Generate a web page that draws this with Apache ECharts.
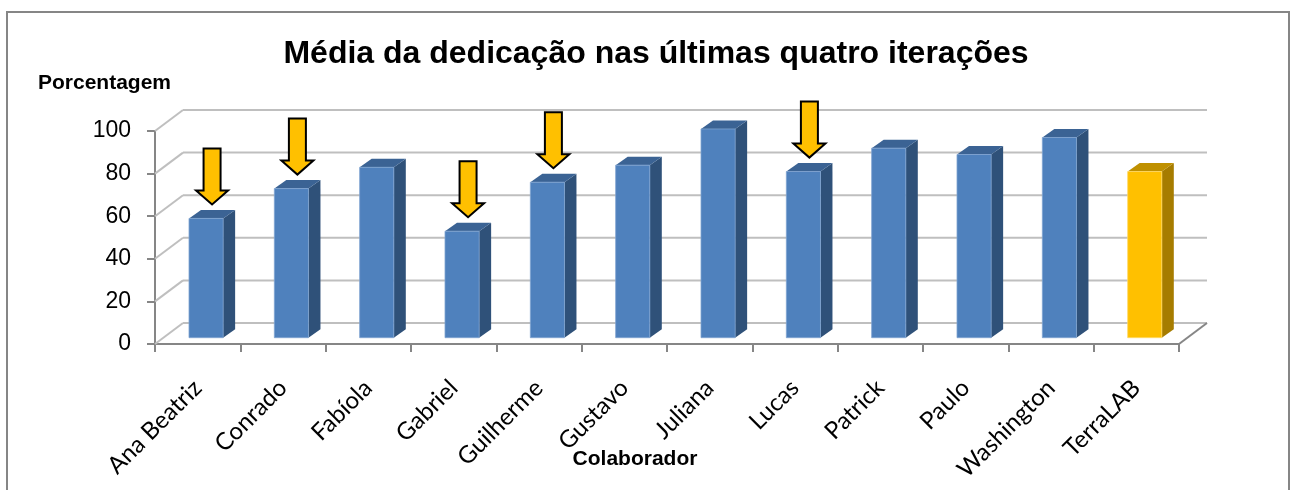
<!DOCTYPE html>
<html>
<head>
<meta charset="utf-8">
<script src="https://cdn.jsdelivr.net/npm/echarts@6/dist/echarts.min.js"></script>
<style>
html, body { margin: 0; padding: 0; background: #fff; }
#main { width: 1296px; height: 490px; }
</style>
</head>
<body>
<div id="main"></div>
<script>
// dados
var colaboradores = ['Ana Beatriz', 'Conrado', 'Fabíola', 'Gabriel', 'Guilherme', 'Gustavo',
	'Juliana', 'Lucas', 'Patrick', 'Paulo', 'Washington', 'TerraLAB'];
var dedicacao = [56, 70, 80, 50, 73, 81, 98, 78, 89, 86, 94, 78];
var comSeta = [1, 1, 0, 1, 1, 0, 0, 1, 0, 0, 0, 0];
var linhasGrade = [0, 20, 40, 60, 80, 100];

// profundidade do "3D"
var PX = 28, PY = 21;

var myChart = echarts.init(document.getElementById('main'));

var barras = colaboradores.map(function(c, i) {
	return [i, dedicacao[i], comSeta[i]];
});

function renderParede(params, api) {
	var cs = params.coordSys;
	var y = api.coord([0, api.value(1)])[1];
	var x0 = cs.x, x1 = cs.x + cs.width;
	var cor = '#BFBFBF';
	var filhos = [{
		type : 'line',
		shape : { x1 : x0, y1 : y, x2 : x0 + PX, y2 : y - PY },
		style : { stroke : cor, lineWidth : 2 }
	}, {
		type : 'line',
		shape : { x1 : x0 + PX, y1 : y - PY, x2 : x1 + PX, y2 : y - PY },
		style : { stroke : cor, lineWidth : 2 }
	}];
	if (api.value(1) === 0) {
		filhos.push({
			type : 'line',
			shape : { x1 : x1, y1 : y, x2 : x1 + PX, y2 : y - PY },
			style : { stroke : '#868686', lineWidth : 2 }
		});
	}
	return { type : 'group', children : filhos };
}

function renderBarra(params, api) {
	var idx = api.value(0);
	var topo = api.coord([idx, api.value(1)]);
	var base = api.coord([idx, 0]);
	var bw = api.size([1, 0])[0] * 0.4;
	var ox = PX * 0.3, oy = -PY * 0.3;
	var dx = 12, dy = 8.5;
	var x1 = topo[0] - bw / 2 + ox, x2 = x1 + bw;
	var yt = topo[1] + oy, yb = base[1] + oy;
	var amarelo = colaboradores[idx] === 'TerraLAB';
	var frente = amarelo ? '#FFC000' : '#4F81BD';
	var lado = amarelo ? '#A67C00' : '#2F5179';
	var cima = amarelo ? '#BF9000' : '#3B6394';
	var filhos = [{
		type : 'polygon',
		shape : { points : [[x2, yt], [x2 + dx, yt - dy], [x2 + dx, yb - dy], [x2, yb]] },
		style : { fill : lado }
	}, {
		type : 'polygon',
		shape : { points : [[x1, yt], [x1 + dx, yt - dy], [x2 + dx, yt - dy], [x2, yt]] },
		style : { fill : cima }
	}, {
		type : 'rect',
		shape : { x : x1, y : yt, width : bw, height : yb - yt },
		style : { fill : frente, stroke : amarelo ? '#FFD966' : '#7FA3D1', lineWidth : 0.8 }
	}];
	if (api.value(2) === 1) {
		var tx = topo[0] + ox + 6, ty = yt - 14;
		filhos.push({
			type : 'polygon',
			shape : { points : [[tx - 8.5, ty - 56], [tx + 8.5, ty - 56], [tx + 8.5, ty - 14],
				[tx + 16, ty - 14], [tx, ty], [tx - 16, ty - 14], [tx - 8.5, ty - 14]] },
			style : { fill : '#FFC000', stroke : '#000', lineWidth : 2, lineJoin : 'miter' }
		});
	}
	return { type : 'group', children : filhos };
}

var option = {
	animation : false,
	graphic : [{
		type : 'rect',
		shape : { x : 7, y : 12, width : 1282, height : 490 },
		style : { fill : 'none', stroke : '#868686', lineWidth : 2 }
	}, {
		type : 'text',
		x : 656, y : 54,
		style : {
			text : 'Média da dedicação nas últimas quatro iterações',
			font : 'bold 32px "Liberation Sans", Arial, sans-serif',
			fill : '#000', textAlign : 'center', textVerticalAlign : 'middle'
		}
	}, {
		type : 'text',
		x : 38, y : 83,
		style : {
			text : 'Porcentagem',
			font : 'bold 21px "Liberation Sans", Arial, sans-serif',
			fill : '#000', textAlign : 'left', textVerticalAlign : 'middle'
		}
	}, {
		type : 'text',
		x : 635, y : 459,
		style : {
			text : 'Colaborador',
			font : 'bold 21px "Liberation Sans", Arial, sans-serif',
			fill : '#000', textAlign : 'center', textVerticalAlign : 'middle'
		}
	}],
	grid : {
		left : 155,
		top : 131,
		width : 1024,
		height : 213
	},
	xAxis : {
		type : 'category',
		data : colaboradores,
		axisLine : { lineStyle : { color : '#868686', width : 2 } },
		axisTick : { show : true, length : 8, lineStyle : { color : '#868686', width : 2 } },
		axisLabel : {
			interval : 0,
			rotate : 45,
			margin : 40,
			color : '#000',
			fontFamily : 'Lato',
			fontSize : 24
		},
		splitLine : { show : false }
	},
	yAxis : {
		type : 'value',
		min : 0,
		max : 100,
		interval : 20,
		axisLine : { show : true, lineStyle : { color : '#868686', width : 2 } },
		axisTick : { show : true, length : 8, lineStyle : { color : '#868686', width : 2 } },
		axisLabel : {
			margin : 24,
			color : '#000',
			fontFamily : '"Liberation Sans", Arial',
			fontSize : 23
		},
		splitLine : { show : false }
	},
	series : [{
		name : 'grade',
		type : 'custom',
		z : 1,
		silent : true,
		renderItem : renderParede,
		data : linhasGrade.map(function(v) { return [0, v]; })
	}, {
		name : 'dedicação',
		type : 'custom',
		z : 3,
		renderItem : renderBarra,
		encode : { x : 0, y : 1 },
		data : barras
	}]
};

myChart.setOption(option);
</script>
</body>
</html>
